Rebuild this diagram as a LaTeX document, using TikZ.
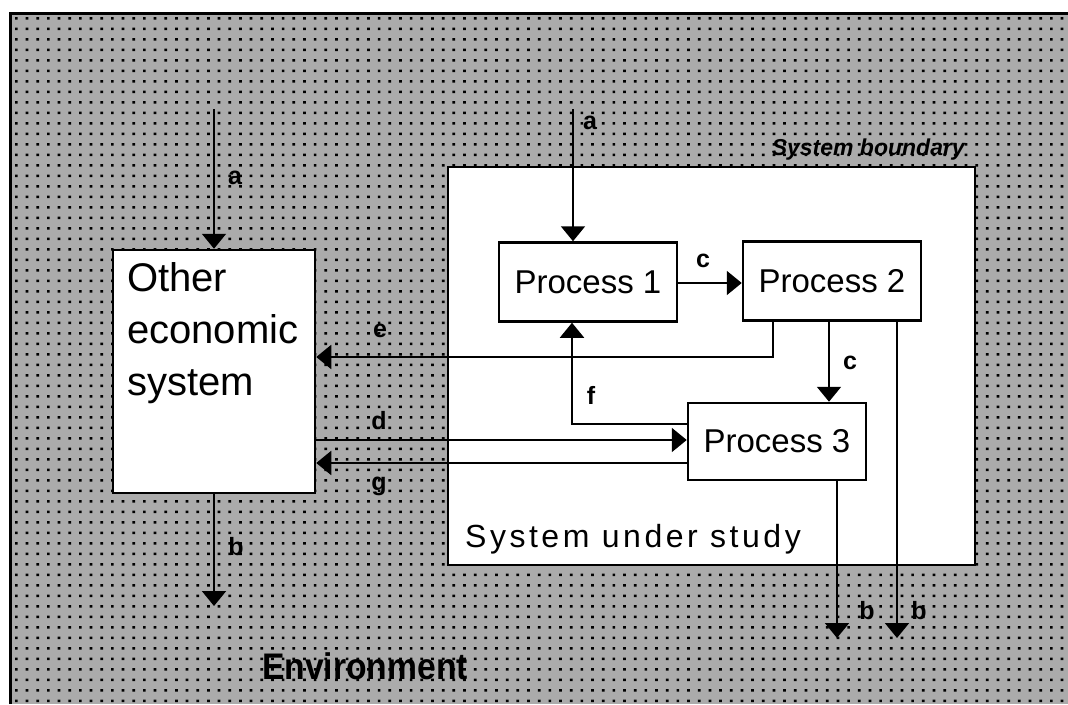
\documentclass[tikz,border=0pt]{standalone}
\usepackage{fontspec}
\setmainfont{Liberation Sans}
\usepackage{graphicx}
\usetikzlibrary{arrows.meta}
\definecolor{envgray}{HTML}{ABABAB}
\tikzset{
  flow/.style={line width=2pt,-{Triangle[width=24pt,length=15pt]}},
  procbox/.style={draw,line width=2.5pt,fill=white,minimum width=178pt,minimum height=79pt,
    inner sep=0pt,font=\fontsize{33}{38}\selectfont},
  flowlabel/.style={font=\fontsize{25}{28}\selectfont\bfseries,inner sep=0pt},
}
\begin{document}
\begin{tikzpicture}[x=1pt,y=-1pt]
\useasboundingbox (0,0) rectangle (1068,704);

% environment: grey stippled field with a frame on top and left
\fill[envgray] (10,13) rectangle (1068,704);
\begin{scope}
\clip (11,14) rectangle (1068,704);
\foreach \j in {0,...,65}{
  \fill[black] \foreach \i in {0,...,99}{ (15+\i*10.67,17+\j*10.5) rectangle ++(2.7,2.7) };
}
\end{scope}
\draw[line width=3pt] (10,704) -- (10,13) -- (1068,13);

% system boundary
\draw[line width=2.5pt,fill=white] (448,167) rectangle (975,565);
\node[anchor=base east,font=\fontsize{23}{26}\selectfont\bfseries\itshape,inner sep=0pt]
  (boundlbl) at (965,155) {System boundary};
\node[anchor=base west,font=\fontsize{32}{36}\selectfont,inner sep=0pt]
  (studylbl) at (465,547) {\addfontfeature{LetterSpace=11}System under study};

% boxes
\node[draw,line width=2.5pt,fill=white,minimum width=202pt,minimum height=243pt,inner sep=0pt]
  (other) at (214,371.5) {};
\node[anchor=north west,inner sep=0pt,align=left,font=\fontsize{40}{52}\selectfont]
  (othertxt) at (127,262) {Other\\economic\\system};
\node[procbox] (p1) at (588,282) {Process 1};
\node[procbox] (p2) at (832,281) {Process 2};
\node[procbox,minimum height=77pt] (p3) at (777,441.5) {Process 3};

% free ends
\coordinate (atop1) at (214,109);
\coordinate (atop2) at (573,109);
\coordinate (bend1) at (214,606);
\coordinate (bend3) at (837,638);
\coordinate (bend2) at (897,638);
\coordinate (ecol) at (773,357);
\coordinate (fcol) at (572,424);

% connectors
\draw[flow] (atop1) -- (other.north);
\draw[flow] (atop2) -- (atop2 |- p1.north);
\draw[flow] (p1.east |- 0,283) -- (p2.west |- 0,283);
\draw[flow] (829,0 |- p2.south) -- (829,0 |- p3.north);
\draw[flow] (p3.south -| bend3) -- (bend3);
\draw[flow] (p2.south -| bend2) -- (bend2);
\draw[flow] (p2.south -| ecol) |- (other.east |- ecol);
\draw[flow] (p3.west |- fcol) -| (fcol |- p1.south);
\draw[flow] (other.east |- 0,440) -- (p3.west |- 0,440);
\draw[flow] (p3.west |- 0,463) -- (other.east |- 0,463);
\draw[flow] (other.south) -- (bend1);

% flow labels
\node[flowlabel] (la1) at (235,178) {a};
\node[flowlabel] (la2) at (590,123) {a};
\node[flowlabel] (lc1) at (703,261) {c};
\node[flowlabel] (lc2) at (850,363) {c};
\node[flowlabel] (lf) at (591,395) {f};
\node[flowlabel] (le) at (380,331) {e};
\node[flowlabel] (ld) at (379,421) {d};
\node[flowlabel] (lg) at (379,486) {g};
\node[flowlabel] (lb1) at (236,547) {b};
\node[flowlabel] (lb3) at (867,611) {b};
\node[flowlabel] (lb2) at (919,611) {b};

% environment label
\node[anchor=base west,inner sep=0pt,font=\fontsize{37}{40}\selectfont\bfseries]
  (envlbl) at (262,679) {\scalebox{0.91}[1]{Environment}};
\end{tikzpicture}
\end{document}
